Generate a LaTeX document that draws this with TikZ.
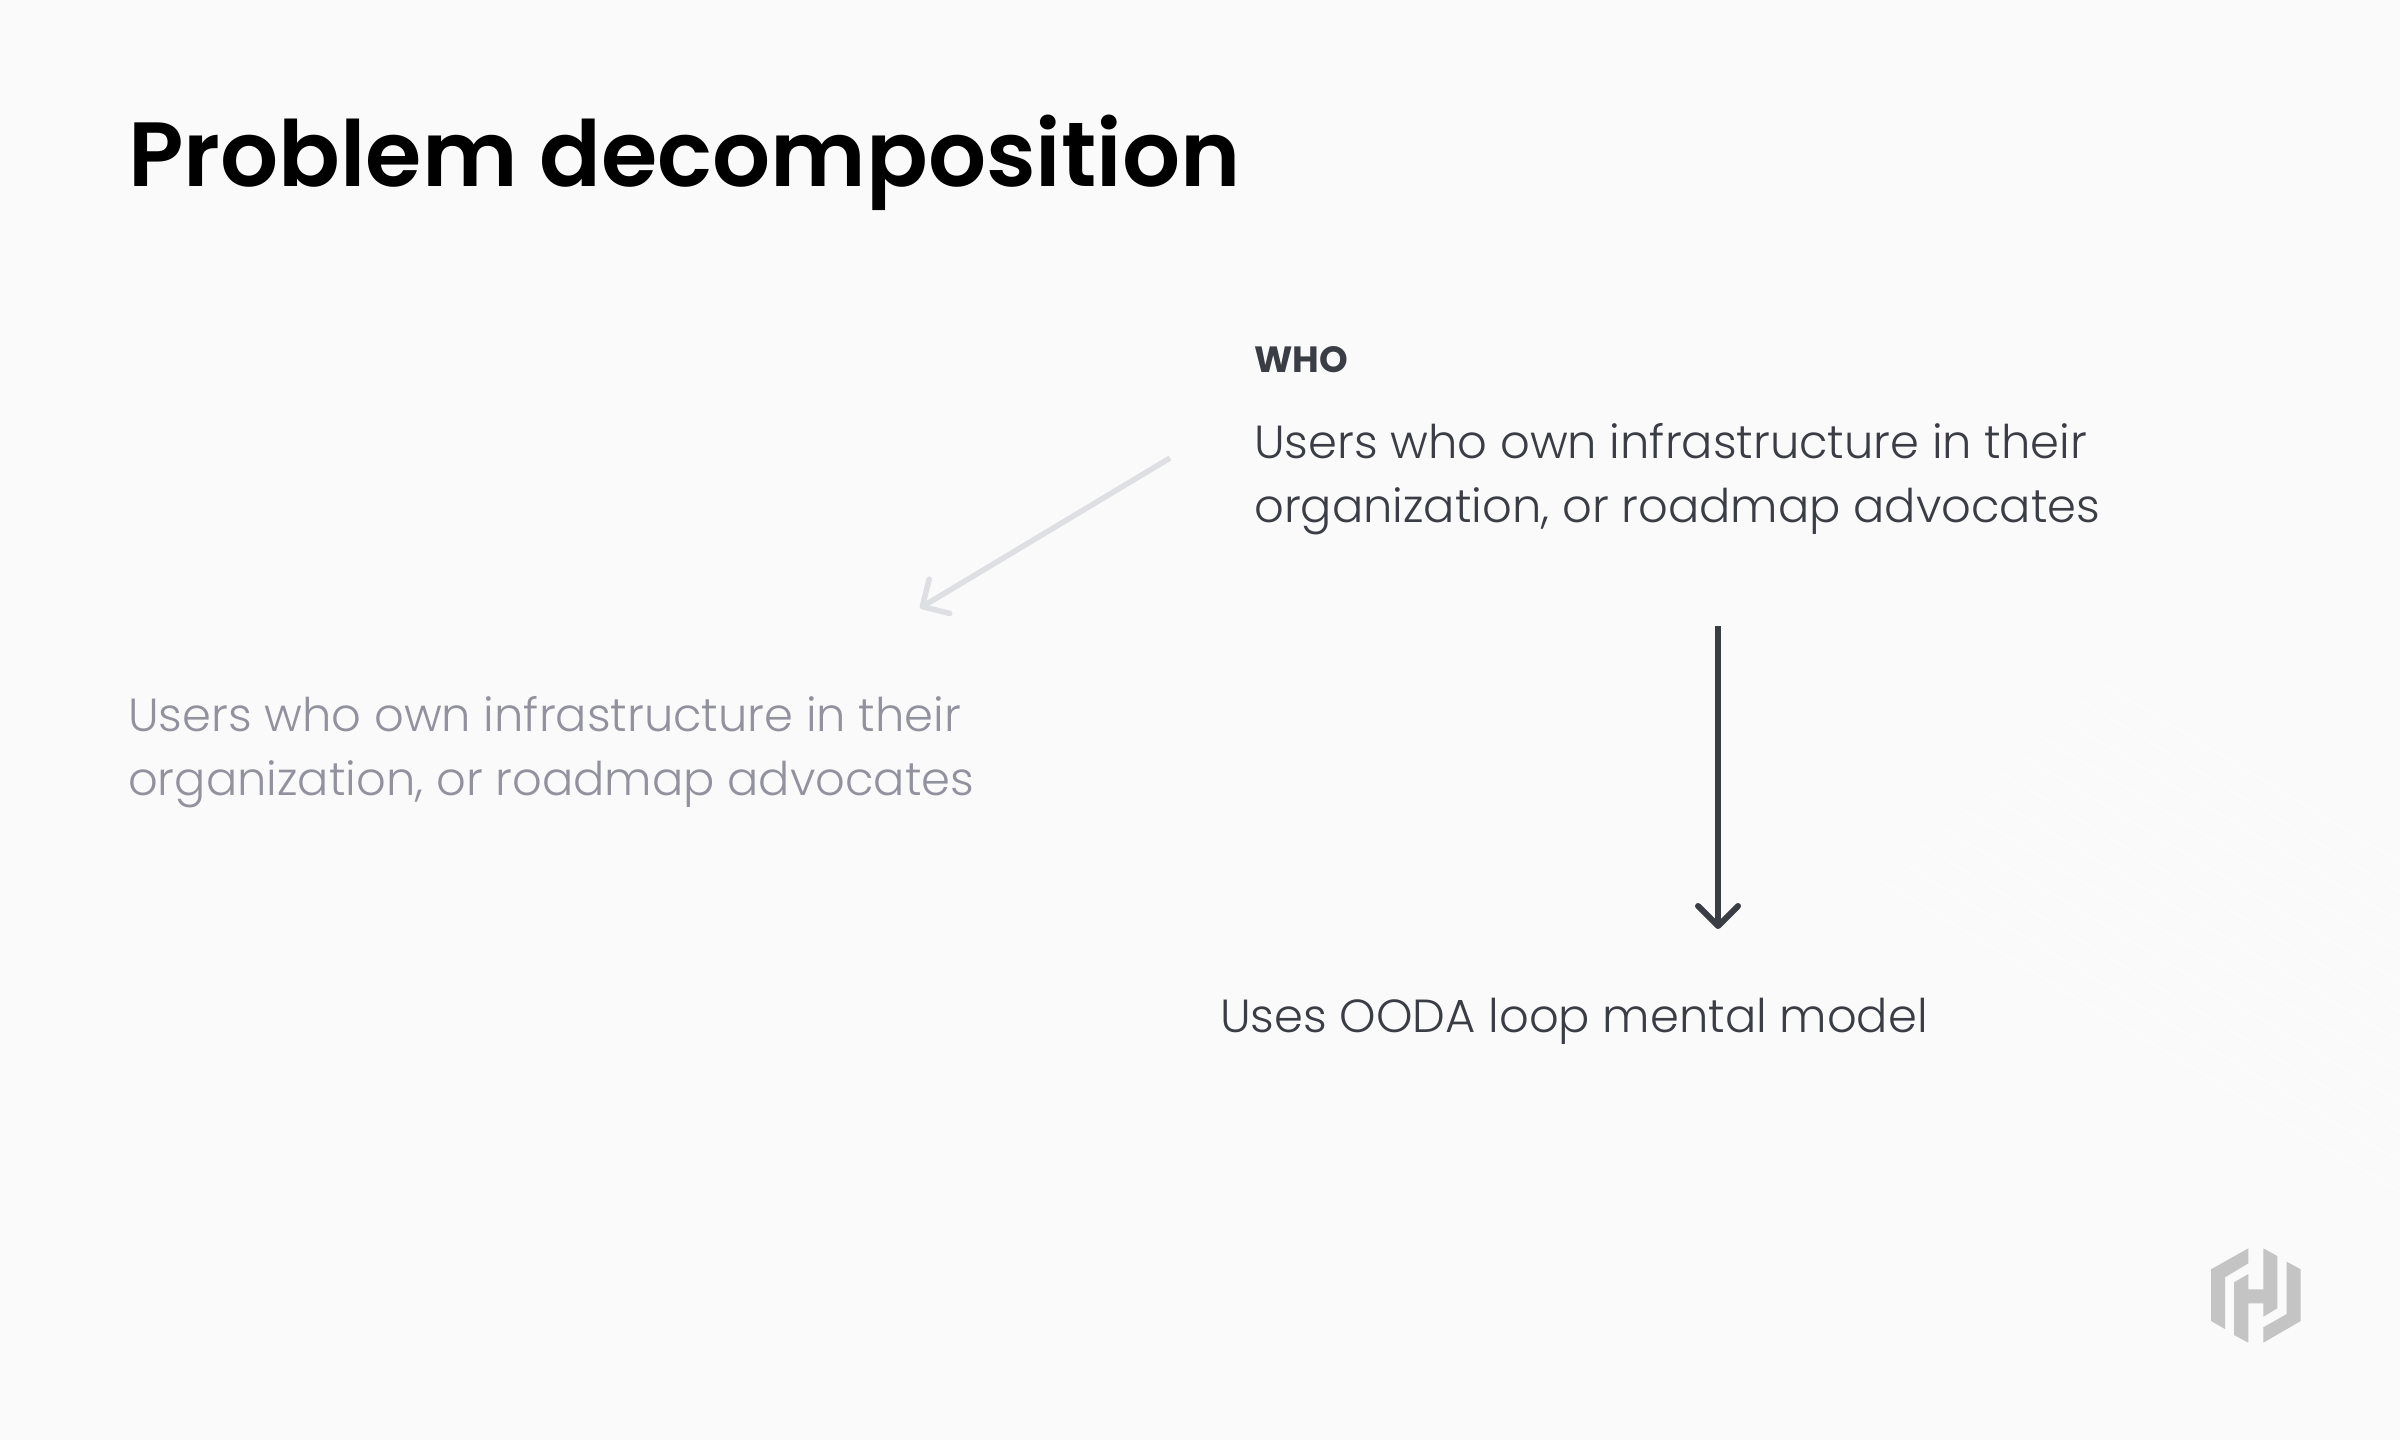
\documentclass[tikz,border=0pt]{standalone}
\usepackage{fontspec}
\setmainfont{Poppins Light}
\newfontfamily\headfont{Poppins SemiBold}
\newfontfamily\kickerfont{Poppins Bold}
\usepackage{tikz}
\usetikzlibrary{arrows.meta, positioning}
\definecolor{slidebg}{HTML}{FAFAFA}
\definecolor{inkdark}{HTML}{3B3D45}
\definecolor{inkfade}{HTML}{92929E}
\definecolor{arrowfade}{HTML}{DEDFE3}
\definecolor{logogray}{HTML}{C4C4C4}
\definecolor{sheen}{HTML}{FCFCFC}
\tikzset{
  every node/.style={inner sep=0pt, anchor=base west},
  titletext/.style={font=\fontsize{91.2}{110}\headfont, text=black},
  kicker/.style={font=\fontsize{36.5}{44}\kickerfont, text=inkdark},
  bodytext/.style={font=\fontsize{46.4}{64}\selectfont, text=inkdark, align=left},
  fadetext/.style={bodytext, text=inkfade},
  flow/.style={line width=6pt, inkdark, -{Straight Barb[length=20pt, width=40pt, round, line width=6pt]}},
  fadeflow/.style={line width=5.5pt, arrowfade, -{Straight Barb[length=20pt, width=40pt, round, line width=5.5pt]}},
}
\begin{document}
\begin{tikzpicture}[x=1pt, y=-1pt]
  \fill[slidebg] (0,0) rectangle (2400,1440);
  \useasboundingbox (0,0) rectangle (2400,1440);
  \begin{scope}
    \clip (0,0) rectangle (2400,1440);
    \foreach \n in {0,...,11} {
      \draw[sheen, line width=1.5pt] (1880+\n*20,880-\n*18) -- +(700,420);
    }
  \end{scope}
  \node (title) [titletext] at (128,186) {Problem decomposition};
  \node (who) [kicker] at (1254,372) {WHO};
  \node (whobody) [bodytext] at (1254,522) {Users who own infrastructure in their\\organization, or roadmap advocates};
  \node (fadebody) [fadetext] at (128,795) {Users who own infrastructure in their\\organization, or roadmap advocates};
  \node (ooda) [bodytext] at (1220,1032) {Uses OODA loop mental model};
  \coordinate (fadestart) at (1170,458);
  \coordinate (fadeend) at (920,608);
  \coordinate (flowstart) at (1718,626);
  \coordinate (flowend) at (1718,929);
  \draw[fadeflow] (fadestart) -- (fadeend);
  \draw[flow] (flowstart) -- (flowend);
  % logo
  \fill[logogray] (2248.3,1248.3) -- (2211,1269.3) -- (2211,1321) -- (2225,1329) -- (2225,1277.3) -- (2248.3,1263.3) -- cycle;
  \fill[logogray] (2248.3,1274) -- (2234,1282.3) -- (2234,1335) -- (2248.3,1342.7) -- (2248.3,1303.3) -- (2263.3,1303.3) -- (2263.3,1316.7) -- (2277.3,1308.3) -- (2277.3,1256) -- (2263.3,1248.3) -- (2263.3,1289.3) -- (2248.3,1289.3) -- cycle;
  \fill[logogray] (2286.7,1261.7) -- (2300.7,1269.3) -- (2300.7,1321) -- (2263.3,1342.7) -- (2263.3,1327.3) -- (2286.7,1314) -- cycle;
\end{tikzpicture}
\end{document}
